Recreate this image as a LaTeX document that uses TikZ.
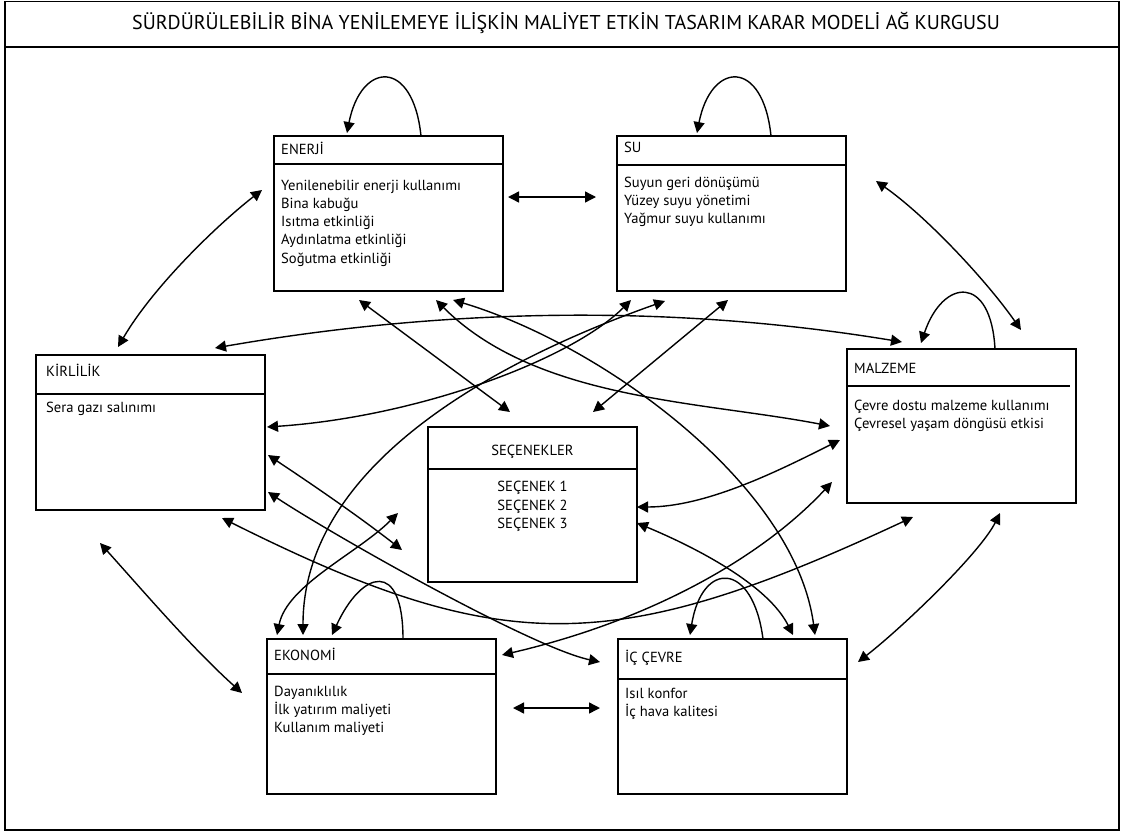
\documentclass[tikz,border=0pt]{standalone}
\usepackage{fontspec}
\setmainfont{PT Sans}
\usetikzlibrary{arrows.meta,calc}

\begin{document}
\begin{tikzpicture}[x=1pt,y=-1pt,
  panel/.style={draw, line width=1.8pt, minimum width=229pt, minimum height=155pt,
                anchor=north west, inner sep=0pt, outer sep=0pt},
  rule/.style={line width=1.5pt},
  biarrow/.style={line width=1.4pt, {Triangle[length=11pt,width=11pt]}-{Triangle[length=11pt,width=11pt]}},
  selfarc/.style={line width=1.4pt, -{Triangle[length=11pt,width=11pt]}},
  txt/.style={anchor=base west, inner sep=0pt, font=\fontsize{14.6}{18}\selectfont},
  ctxt/.style={anchor=base, inner sep=0pt, font=\fontsize{14.6}{18}\selectfont},
]
\useasboundingbox (0,0) rectangle (1128,836);

% outer frame and title band
\node[draw, line width=1.6pt, inner sep=0pt, outer sep=0pt, anchor=north west,
      minimum width=1114pt, minimum height=828.5pt] (frame) at (5,1.5) {};
\draw[line width=1.6pt] ($(frame.north west)+(0,45.5)$) -- ($(frame.north east)+(0,45.5)$);
\node[anchor=base, inner sep=0pt, font=\fontsize{20}{24}\selectfont] (title) at (566,29.5)
  {SÜRDÜRÜLEBİLİR BİNA YENİLEMEYE İLİŞKİN MALİYET ETKİN TASARIM KARAR MODELİ AĞ KURGUSU};

% criterion boxes
\node[panel] (enerji) at (274,136) {};
\node[panel] (su) at (617,136) {};
\node[panel] (kir) at (36,355) {};
\node[panel, minimum width=209pt] (sec) at (428,427) {};
\node[panel, minimum height=154pt] (malz) at (847,349) {};
\node[panel] (eko) at (267,639) {};
\node[panel] (ic) at (618,639) {};

% header separators
\draw[rule] ($(enerji.north west)+(0,28)$) -- ($(enerji.north east)+(0,28)$);
\draw[rule] ($(su.north west)+(0,29)$) -- ($(su.north east)+(0,29)$);
\draw[rule] ($(kir.north west)+(0,39)$) -- ($(kir.north east)+(0,39)$);
\draw[rule] ($(sec.north west)+(0,42)$) -- ($(sec.north east)+(0,42)$);
\draw[rule] ($(malz.north west)+(0,37)$) -- ($(malz.north east)+(-6,37)$);
\draw[rule] ($(eko.north west)+(0,35)$) -- ($(eko.north east)+(0,35)$);
\draw[rule] ($(ic.north west)+(0,40)$) -- ($(ic.north east)+(1,40)$);

% ENERJİ
\node[txt] (enerji-h) at ($(enerji.north west)+(7,18)$) {ENERJİ};
\node[txt] (enerji-1) at ($(enerji.north west)+(7,54)$) {Yenilenebilir enerji kullanımı};
\node[txt] (enerji-2) at ($(enerji.north west)+(7,72.3)$) {Bina kabuğu};
\node[txt] (enerji-3) at ($(enerji.north west)+(7,90.6)$) {Isıtma etkinliği};
\node[txt] (enerji-4) at ($(enerji.north west)+(7,108.9)$) {Aydınlatma etkinliği};
\node[txt] (enerji-5) at ($(enerji.north west)+(7,127.2)$) {Soğutma etkinliği};

% SU
\node[txt] (su-h) at ($(su.north west)+(7,16)$) {SU};
\node[txt] (su-1) at ($(su.north west)+(7,51.7)$) {Suyun geri dönüşümü};
\node[txt] (su-2) at ($(su.north west)+(7,69.7)$) {Yüzey suyu yönetimi};
\node[txt] (su-3) at ($(su.north west)+(7,87.5)$) {Yağmur suyu kullanımı};

% KİRLİLİK
\node[txt] (kir-h) at ($(kir.north west)+(10,21)$) {KİRLİLİK};
\node[txt] (kir-1) at ($(kir.north west)+(10,57.7)$) {Sera gazı salınımı};

% SEÇENEKLER
\node[ctxt] (sec-h) at ($(sec.north)+(0,28)$) {SEÇENEKLER};
\node[ctxt] (sec-1) at ($(sec.north)+(0,64.7)$) {SEÇENEK 1};
\node[ctxt] (sec-2) at ($(sec.north)+(0,83)$) {SEÇENEK 2};
\node[ctxt] (sec-3) at ($(sec.north)+(0,101.3)$) {SEÇENEK 3};

% MALZEME
\node[txt] (malz-h) at ($(malz.north west)+(7,24.3)$) {MALZEME};
\node[txt] (malz-1) at ($(malz.north west)+(7,61)$) {Çevre dostu malzeme kullanımı};
\node[txt] (malz-2) at ($(malz.north west)+(7,79.3)$) {Çevresel yaşam döngüsü etkisi};

% EKONOMİ
\node[txt] (eko-h) at ($(eko.north west)+(7,21)$) {EKONOMİ};
\node[txt] (eko-1) at ($(eko.north west)+(7,57.7)$) {Dayanıklılık};
\node[txt] (eko-2) at ($(eko.north west)+(7,75.3)$) {İlk yatırım maliyeti};
\node[txt] (eko-3) at ($(eko.north west)+(7,93.7)$) {Kullanım maliyeti};

% İÇ ÇEVRE
\node[txt] (ic-h) at ($(ic.north west)+(7,23)$) {İÇ ÇEVRE};
\node[txt] (ic-1) at ($(ic.north west)+(7,59.3)$) {Isıl konfor};
\node[txt] (ic-2) at ($(ic.north west)+(7,77)$) {İç hava kalitesi};

% self-influence loops
\draw[selfarc] ($(enerji.north west)+(147,0)$) .. controls +(-8,-78) and +(14,-72) .. ($(enerji.north west)+(73,-3)$);
\draw[selfarc] ($(su.north west)+(154,0)$) .. controls +(-8,-78) and +(14,-72) .. ($(su.north west)+(80,-3)$);
\draw[selfarc] ($(malz.north west)+(148,0)$) .. controls +(-4,-75) and +(22,-65) .. ($(malz.north west)+(74,-6)$);
\draw[selfarc] ($(eko.north west)+(136,0)$) .. controls +(0,-80) and +(30,-65) .. ($(eko.north west)+(65,-4)$);
\draw[selfarc] ($(ic.north west)+(145,0)$) .. controls +(-10,-78) and +(12,-75) .. ($(ic.north west)+(72,-4)$);

% straight links
\draw[biarrow] ($(enerji.north east)+(5,61)$) -- ($(su.north west)+(-21,61)$);
\draw[biarrow] ($(eko.north east)+(17,69)$) -- ($(ic.north west)+(-18,69)$);
\draw[biarrow] ($(enerji.south west)+(85,9)$) -- ($(sec.north west)+(82,-15)$);
\draw[biarrow] ($(su.south west)+(111,9)$) -- ($(sec.north west)+(165,-15)$);

% curved links
\draw[biarrow] ($(kir.north west)+(82,-8)$) .. controls +(35,-60) and +(-45,35) .. ($(enerji.north west)+(-12,54)$);
\draw[biarrow] ($(su.north east)+(30,45)$) .. controls +(50,35) and +(-35,-50) .. ($(malz.north west)+(174,-19)$);
\draw[biarrow] ($(kir.north west)+(179,-7)$) .. controls +(230,-40) and +(-230,-38) .. ($(malz.north west)+(55,-7)$);
\draw[biarrow] ($(enerji.south west)+(162,9)$) .. controls +(100,100) and +(-130,-25) .. ($(malz.north west)+(-17,77)$);
\draw[biarrow] ($(enerji.south west)+(179,9)$) .. controls +(150,45) and +(-20,-150) .. ($(ic.north west)+(197,-4)$);
\draw[biarrow] ($(su.south west)+(14,9)$) .. controls +(-60,60) and +(150,-10) .. ($(kir.north east)+(2,72)$);
\draw[biarrow] ($(su.south west)+(48,10)$) .. controls +(-170,60) and +(0,-170) .. ($(eko.north west)+(36,-4)$);
\draw[biarrow] ($(kir.north east)+(3,100)$) .. controls +(45,30) and +(-45,-35) .. ($(sec.north west)+(-26,123)$);
\draw[biarrow] ($(kir.north east)+(3,137)$) .. controls +(60,40) and +(-70,-15) .. ($(ic.north west)+(-18,23)$);
\draw[biarrow] ($(kir.south west)+(186,8)$) .. controls +(280,140) and +(-300,140) .. ($(malz.south west)+(66,14)$);
\draw[biarrow] ($(eko.north east)+(6,16)$) .. controls +(150,-35) and +(-70,75) .. ($(malz.north west)+(-15,133)$);
\draw[biarrow] ($(eko.north west)+(10,-4)$) .. controls +(10,-50) and +(-40,40) .. ($(sec.north west)+(-30,86)$);
\draw[biarrow] ($(sec.north east)+(0,80)$) .. controls +(70,0) and +(-60,30) .. ($(malz.north west)+(-7,91)$);
\draw[biarrow] ($(sec.north east)+(0,96)$) .. controls +(60,25) and +(-25,-50) .. ($(ic.north west)+(175,-4)$);
\draw[biarrow] ($(ic.north east)+(11,23)$) .. controls +(45,-35) and +(-20,40) .. ($(malz.south west)+(153,10)$);
\draw[biarrow] ($(kir.south west)+(64,33)$) .. controls +(45,50) and +(-50,-45) .. ($(eko.north west)+(-25,54)$);
\end{tikzpicture}
\end{document}
